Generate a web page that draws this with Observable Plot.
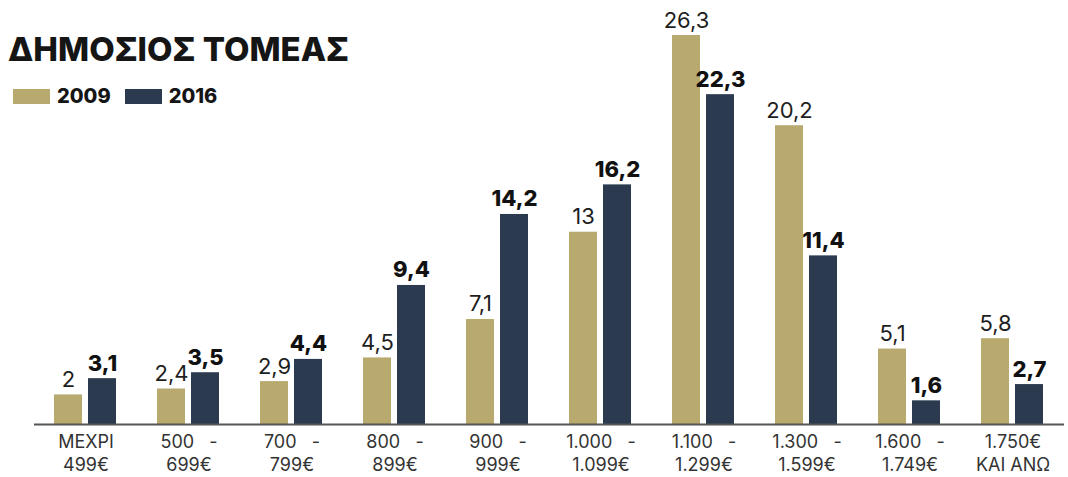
<!DOCTYPE html>
<html>
<head>
<meta charset="utf-8">
<script src="https://cdn.jsdelivr.net/npm/d3@7"></script>
<script src="https://cdn.jsdelivr.net/npm/@observablehq/plot@0.6"></script>
<style>
  html, body { margin: 0; padding: 0; background: #fff; }
  #wrap { position: relative; width: 1068px; height: 477px; font-family: "Inter", "Noto Sans", sans-serif; }
  #title { position: absolute; left: 8px; top: 29px; font-size: 33px; font-weight: 800; color: #151515; }
  #legend { position: absolute; left: 13px; top: 84px; display: flex; align-items: center; font-size: 20px; font-weight: 800; color: #151515; }
  .sw { display: inline-block; width: 37px; height: 15px; margin-right: 7px; }
  .item { display: flex; align-items: center; margin-right: 14px; }
  #chart { position: absolute; left: 0; top: 0; }
</style>
</head>
<body>
<div id="wrap">
  <div id="chart"></div>
  <div id="title">ΔΗΜΟΣΙΟΣ ΤΟΜΕΑΣ</div>
  <div id="legend"></div>
</div>
<script>
const categories = ["c1","c2","c3","c4","c5","c6","c7","c8","c9","c10"];
const tickLabels = ["ΜΕΧΡΙ\n499€","500   -\n699€","700   -\n799€","800   -\n899€","900   -\n999€","1.000   -\n1.099€","1.100   -\n1.299€","1.300   -\n1.599€","1.600   -\n1.749€","1.750€\nΚΑΙ ΑΝΩ"];
const years = ["2009", "2016"];
const values2009 = [2, 2.4, 2.9, 4.5, 7.1, 13, 26.3, 20.2, 5.1, 5.8];
const values2016 = [3.1, 3.5, 4.4, 9.4, 14.2, 16.2, 22.3, 11.4, 1.6, 2.7];
const colors = ["#b8a96e", "#2b3a4f"];

const data = categories.flatMap((c, i) => [
  {cat: c, year: "2009", value: values2009[i]},
  {cat: c, year: "2016", value: values2016[i]}
]);
const fmt = v => String(v).replace(".", ",");
const labelOf = new Map(categories.map((c, i) => [c, tickLabels[i]]));

const chart = Plot.plot({
  width: 1068,
  height: 477,
  marginTop: 35,
  marginBottom: 53,
  marginLeft: 29,
  marginRight: 0,
  style: {fontFamily: "Inter, 'Noto Sans', sans-serif", background: "transparent"},
  fx: {domain: categories, padding: 0, label: null, axis: null},
  x: {domain: years, paddingInner: 0.17, paddingOuter: 0.56, axis: null},
  y: {domain: [0, 26.3], axis: null},
  color: {domain: years, range: colors},
  marks: [
    Plot.barY(data, {fx: "cat", x: "year", y: "value", fill: "year"}),
    Plot.text(data.filter(d => d.year === "2009"), {fx: "cat", x: "year", y: "value", text: d => fmt(d.value), dy: -8, lineAnchor: "bottom", fontSize: 22, fill: "#1e1e1e", fontWeight: 400}),
    Plot.text(data.filter(d => d.year === "2016"), {fx: "cat", x: "year", y: "value", text: d => fmt(d.value), dy: -8, lineAnchor: "bottom", fontSize: 22, fill: "#111", fontWeight: 800}),
    Plot.ruleY([0], {stroke: "#555", strokeWidth: 2}),
    Plot.axisFx({anchor: "bottom", tickSize: 0, tickPadding: 8, fontSize: 18, lineHeight: 1.25, fill: "#333", tickFormat: d => labelOf.get(d), label: null})
  ]
});
document.getElementById("chart").appendChild(chart);

const legend = document.getElementById("legend");
years.forEach((y, i) => {
  const it = document.createElement("div");
  it.className = "item";
  const sw = document.createElement("span");
  sw.className = "sw";
  sw.style.background = colors[i];
  it.appendChild(sw);
  it.appendChild(document.createTextNode(y));
  legend.appendChild(it);
});
</script>
</body>
</html>
